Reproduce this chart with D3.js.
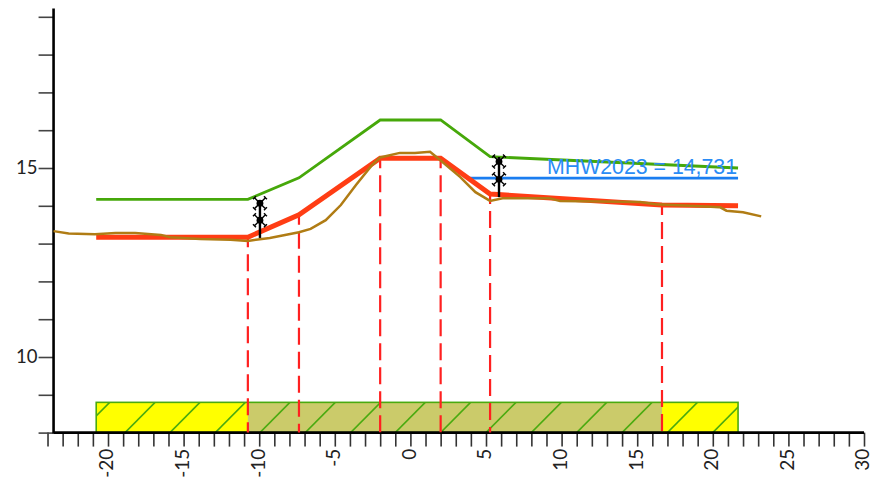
<!DOCTYPE html>
<html>
<head>
<meta charset="utf-8">
<script src="https://cdn.jsdelivr.net/npm/d3@7"></script>
<style>
html, body { margin:0; padding:0; background:#fff; }
svg { display:block; }
text { font-family:Lato, "Open Sans", sans-serif; fill:#222; }
</style>
</head>
<body>
<svg id="graph"></svg>
<script>
// profile values, x = distance, y = height
var designX = [-20.78, -10.75, -7.37, -2.0, 2.0, 5.27, 21.67];
var designY = [14.17, 14.17, 14.74, 16.27, 16.27, 15.30, 15.0];

var crownX = [-20.78, -10.75, -7.37, -2.0, 2.0, 5.27, 16.64, 21.67];
var crownY = [13.17, 13.17, 13.76, 15.26, 15.26, 14.31, 14.02, 14.0];

var surveyX = [-23.6, -22.6, -20.87, -19.5, -18.2, -16.5, -15.9, -13.9, -11.9, -10.75, -9.3, -7.37, -6.6, -5.6, -4.6, -3.6, -2.6, -2.0, -0.7, 0.3, 1.3, 2.0, 3.3, 4.3, 5.27, 6.1, 9.2, 9.9, 15.2, 16.2, 19.2, 20.5, 20.9, 22.0, 23.2];
var surveyY = [13.33, 13.27, 13.25, 13.28, 13.28, 13.23, 13.17, 13.12, 13.10, 13.07, 13.15, 13.30, 13.39, 13.62, 14.02, 14.55, 15.05, 15.28, 15.40, 15.40, 15.43, 15.20, 14.76, 14.36, 14.13, 14.20, 14.20, 14.13, 14.10, 14.04, 13.99, 13.96, 13.87, 13.83, 13.72];

var mhwX = [3.8, 21.67];
var mhwValue = 14.731;
var mhwLabel = "MHW2023 = 14,731";

var dashX = [-10.75, -7.37, -2.0, 2.0, 5.27, 16.64];
var dashTop = [13.17, 13.76, 15.26, 15.26, 14.31, 14.02];

var barX = [-20.78, 21.67];
var barInnerX = [-10.75, 16.64];
var barY = [8, 8.8];
var hatchStart = [-21.87, -18.87, -15.9, -12.9, -9.95, -6.95, -3.95, -1.0, 2.0, 5.0, 8.0, 11.0, 14.0, 17.0, 20.0];

var measureX = [-9.95, 5.86];
var measureTop = [14.15, 15.29];
var measureBottom = [13.15, 14.23];
var markerY = [[14.07, 13.62], [15.17, 14.70]];

var xTicks = d3.range(-24, 31);
var xLabels = [-20, -15, -10, -5, 0, 5, 10, 15, 20, 25, 30];
var yTicks = d3.range(8, 20);
var yLabels = [10, 15];

var screen2 = {width:873, height:477};

var xScale = d3.scaleLinear().domain([-20, 30]).range([108, 864]);
var yScale = d3.scaleLinear().domain([10, 15]).range([357, 168]);

var svg = d3.select("#graph")
  .attr("width", screen2.width)
  .attr("height", screen2.height);

var pts = function(xs, ys) { return xs.map(function(x, i) { return [x, ys[i]]; }); };
var line = d3.line()
  .x(function(d) { return xScale(d[0]); })
  .y(function(d) { return yScale(d[1]); });

// bar with hatching
var barTop = yScale(barY[1]), barBottom = yScale(barY[0]);
svg.append("clipPath").attr("id", "barClip")
  .append("rect")
  .attr("x", xScale(barX[0]))
  .attr("y", barTop)
  .attr("width", xScale(barX[1]) - xScale(barX[0]))
  .attr("height", barBottom - barTop);

svg.append("rect")
  .attr("x", xScale(barX[0]))
  .attr("y", barTop)
  .attr("width", xScale(barX[1]) - xScale(barX[0]))
  .attr("height", barBottom - barTop)
  .attr("fill", "#ffff00");
svg.append("rect")
  .attr("x", xScale(barInnerX[0]))
  .attr("y", barTop)
  .attr("width", xScale(barInnerX[1]) - xScale(barInnerX[0]))
  .attr("height", barBottom - barTop)
  .attr("fill", "#cbcb6a");

svg.append("g").attr("clip-path", "url(#barClip)")
  .selectAll("line").data(hatchStart).enter().append("line")
  .attr("x1", function(d) { return xScale(d); })
  .attr("y1", barBottom)
  .attr("x2", function(d) { return xScale(d + 1.98); })
  .attr("y2", barTop)
  .attr("stroke", "#4aaa10")
  .attr("stroke-width", 1.6);

svg.append("rect")
  .attr("x", xScale(barX[0]))
  .attr("y", barTop)
  .attr("width", xScale(barX[1]) - xScale(barX[0]))
  .attr("height", barBottom - barTop)
  .attr("fill", "none")
  .attr("stroke", "#4aaa10")
  .attr("stroke-width", 1.6);

// axes
var xAxis = d3.axisBottom(xScale).tickValues(xTicks).tickSize(14)
  .tickFormat(function(d) { return xLabels.indexOf(d) >= 0 ? d : ""; });
var yAxis = d3.axisLeft(yScale).tickValues(yTicks).tickSize(15)
  .tickFormat(function(d) { return yLabels.indexOf(d) >= 0 ? d : ""; });

var gx = svg.append("g").attr("transform", "translate(0," + yScale(8) + ")").call(xAxis);
gx.select(".domain").remove();
gx.selectAll(".tick line").attr("stroke", "#333").attr("stroke-width", 1.6);
gx.selectAll(".tick text")
  .attr("transform", "rotate(-90)")
  .attr("text-anchor", "end")
  .attr("dominant-baseline", "middle")
  .attr("x", -16)
  .attr("y", 0)
  .attr("dy", 0)
  .style("font-size", "19px");

var gy = svg.append("g").attr("transform", "translate(" + xScale(-23.6) + ",0)").call(yAxis);
gy.select(".domain").remove();
gy.selectAll(".tick line").attr("stroke", "#444").attr("stroke-width", 1.6);
gy.selectAll(".tick text")
  .attr("x", -16)
  .style("font-size", "18.5px");

svg.append("line")
  .attr("x1", xScale(-23.6)).attr("x2", xScale(30))
  .attr("y1", yScale(8)).attr("y2", yScale(8))
  .attr("stroke", "#000").attr("stroke-width", 2.6);
svg.append("line")
  .attr("x1", xScale(-23.6)).attr("x2", xScale(-23.6))
  .attr("y1", yScale(8) + 1).attr("y2", yScale(19.22))
  .attr("stroke", "#000").attr("stroke-width", 2.6);

// red dashed drop lines
svg.selectAll(".drop").data(dashX).enter().append("line")
  .classed("drop", true)
  .attr("x1", function(d) { return xScale(d); })
  .attr("x2", function(d) { return xScale(d); })
  .attr("y1", function(d, i) { return yScale(dashTop[i]); })
  .attr("y2", barBottom)
  .attr("stroke", "#ff2020")
  .attr("stroke-width", 2.2)
  .attr("stroke-dasharray", "17,7")
  .attr("stroke-dashoffset", 7);

// profile lines
svg.append("path").datum(pts(designX, designY))
  .attr("d", line).attr("fill", "none")
  .attr("stroke", "#46a80a").attr("stroke-width", 2.8);
svg.append("path").datum(pts(mhwX, [mhwValue, mhwValue]))
  .attr("d", line).attr("fill", "none")
  .attr("stroke", "#1a7df0").attr("stroke-width", 2.6);
svg.append("path").datum(pts(crownX, crownY))
  .attr("d", line).attr("fill", "none")
  .attr("stroke", "#ff3d14").attr("stroke-width", 5);
svg.append("path").datum(pts(surveyX, surveyY))
  .attr("d", line).attr("fill", "none")
  .attr("stroke", "#b07c14").attr("stroke-width", 2.5);

svg.append("text")
  .text(mhwLabel)
  .attr("x", xScale(mhwX[1]) - 1)
  .attr("y", yScale(mhwValue) - 4)
  .attr("text-anchor", "end")
  .style("font-family", "'Liberation Sans', sans-serif")
  .style("font-size", "21.3px")
  .style("fill", "#2a8cf5");

// measuring sticks
measureX.forEach(function(mx, i) {
  svg.append("line")
    .attr("x1", xScale(mx)).attr("x2", xScale(mx))
    .attr("y1", yScale(measureTop[i])).attr("y2", yScale(measureBottom[i]))
    .attr("stroke", "#000").attr("stroke-width", 2.4);
  markerY[i].forEach(function(my) {
    var g = svg.append("g").attr("transform", "translate(" + xScale(mx) + "," + yScale(my) + ")");
    g.append("circle").attr("r", 3.4).attr("fill", "#000");
    g.append("path").attr("d", "M-6,-6L6,6M6,-6L-6,6M-7,-4L-4,-7M4,-7L7,-4M-7,4L-4,7M4,7L7,4")
      .attr("fill", "none").attr("stroke", "#000").attr("stroke-width", 1.4);
  });
});
</script>
</body>
</html>
